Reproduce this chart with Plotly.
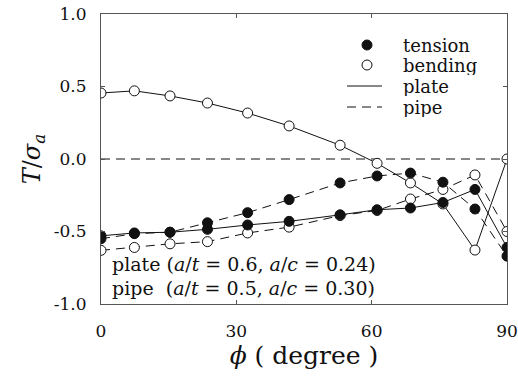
import plotly.graph_objects as go

# Crack-front angle (degrees)
phi = [0, 7.4, 15.3, 23.6, 32.5, 41.7, 53.0, 61.2, 68.6, 75.8, 82.9, 90]

# Normalised T-stress T/sigma_a
plate_tension = [-0.53, -0.51, -0.505, -0.485, -0.455, -0.43, -0.385, -0.35, -0.338, -0.30, -0.21, -0.61]
plate_bending = [0.455, 0.47, 0.435, 0.386, 0.317, 0.228, 0.095, -0.03, -0.165, -0.31, -0.628, 0.0]
pipe_tension = [-0.55, -0.515, -0.505, -0.44, -0.37, -0.28, -0.165, -0.117, -0.097, -0.16, -0.345, -0.67]
pipe_bending = [-0.63, -0.61, -0.585, -0.57, -0.51, -0.47, -0.39, -0.355, -0.276, -0.21, -0.11, -0.50]

x_ticks = [0, 30, 60, 90]
x_labels = ["0", "30", "60", "90"]
y_ticks = [-1.0, -0.5, 0.0, 0.5, 1.0]
y_labels = ["-1.0", "-0.5", "0.0", "0.5", "1.0"]

legend_labels = ["tension", "bending", "plate", "pipe"]
case_labels = [
    "plate (<i>a</i>/<i>t</i> = 0.6, <i>a</i>/<i>c</i> = 0.24)",
    "pipe\u00a0 (<i>a</i>/<i>t</i> = 0.5, <i>a</i>/<i>c</i> = 0.30)",
]

SERIF = "DejaVu Serif"
INK = "#111111"

W, H = 518, 388
ML, MR, MT, MB = 101, 11, 14, 84
PW, PH = W - ML - MR, H - MT - MB

filled = dict(symbol="circle", size=10, color=INK, line=dict(color=INK, width=1))
hollow = dict(symbol="circle", size=10, color="white", line=dict(color=INK, width=1))
solid = dict(color=INK, width=1)
DASH = "9px,6px"
dashed = dict(color=INK, width=1, dash=DASH)

fig = go.Figure()

series = [
    (plate_bending, solid, hollow),
    (pipe_bending, dashed, hollow),
    (plate_tension, solid, filled),
    (pipe_tension, dashed, filled),
]
# lines first, then markers on top
for y, ln, _ in series:
    fig.add_trace(go.Scatter(x=phi, y=y, mode="lines", line=ln,
                             showlegend=False, hoverinfo="skip"))
for y, _, mk in series:
    fig.add_trace(go.Scatter(x=phi, y=y, mode="markers", marker=mk,
                             showlegend=False))

# zero reference line
fig.add_shape(type="line", xref="x", yref="y", x0=0, x1=90, y0=0, y1=0,
              line=dict(color=INK, width=1, dash=DASH), layer="below")


# key (drawn in pixel positions relative to the plot area)
def px_x(p):
    return (p - ML) / PW


def px_y(p):
    return (H - MB - p) / PH


key_rows = [45, 65, 86, 107]
key_cx, key_x0, key_x1, key_text = 367, 347, 382, 402
for i, row in enumerate(key_rows):
    if i < 2:
        fig.add_shape(type="circle", xref="paper", yref="paper",
                      xsizemode="pixel", ysizemode="pixel",
                      xanchor=px_x(key_cx), yanchor=px_y(row),
                      x0=-5, x1=5, y0=-5, y1=5,
                      fillcolor=INK if i == 0 else "white",
                      line=dict(color=INK, width=1))
    else:
        fig.add_shape(type="line", xref="paper", yref="paper",
                      x0=px_x(key_x0), x1=px_x(key_x1),
                      y0=px_y(row), y1=px_y(row),
                      line=dict(color=INK, width=1,
                                dash="solid" if i == 2 else DASH))
    fig.add_annotation(xref="paper", yref="paper", x=px_x(key_text), y=px_y(row),
                       xanchor="left", yanchor="middle", showarrow=False,
                       height=20, borderpad=0,
                       text=legend_labels[i],
                       font=dict(family=SERIF, size=18, color=INK))

# crack geometry labels
for row, txt in zip([263, 287], case_labels):
    fig.add_annotation(xref="paper", yref="paper", x=px_x(111), y=px_y(row),
                       xanchor="left", yanchor="middle", showarrow=False,
                       height=23, borderpad=0,
                       text=txt, font=dict(family=SERIF, size=19, color=INK))

axis_common = dict(
    showline=True, linecolor="#555555", linewidth=1, mirror="ticks",
    ticks="inside", ticklen=4, tickcolor="#555555",
    showgrid=False, zeroline=False, automargin=False,
    ticklabeloverflow="allow",
    tickfont=dict(family=SERIF, size=17, color=INK),
)

fig.update_xaxes(range=[0, 90], tickvals=x_ticks, ticktext=x_labels,
                 ticklabelstandoff=12,
                 title=dict(text="<i>\u03d5</i> ( degree )",
                            font=dict(family=SERIF, size=25, color=INK),
                            standoff=4),
                 **axis_common)
fig.update_yaxes(range=[-1, 1], tickvals=y_ticks, ticktext=y_labels,
                 ticklabelstandoff=10,
                 title=dict(text="<i>T</i>/<i>\u03c3</i><sub><i>a</i></sub>",
                            font=dict(family=SERIF, size=24, color=INK),
                            standoff=6),
                 **axis_common)

fig.update_layout(
    width=W, height=H,
    margin=dict(l=ML, r=MR, t=MT, b=MB),
    paper_bgcolor="white", plot_bgcolor="white",
    font=dict(family=SERIF, color=INK),
    showlegend=False,
)

fig.write_html("out.html")
